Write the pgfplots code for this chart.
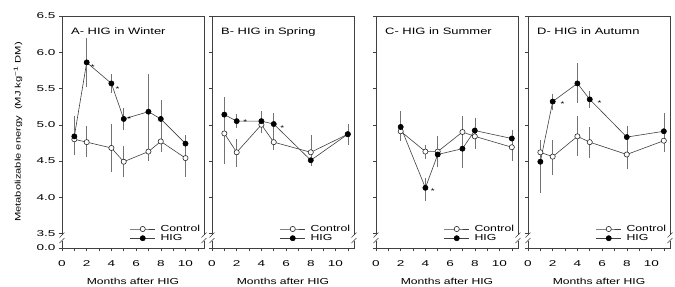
\documentclass[border=0pt]{standalone}
\usepackage{fontspec}
\setmainfont{Liberation Sans}[FakeStretch=1.4]
\newfontfamily\tickfont{Liberation Sans}[FakeStretch=1.6]
\usepackage{pgfplots}
\pgfplotsset{compat=1.18}
\pgfplotsset{
  panel/.style={
    scale only axis, width=142bp, height=232bp,
    xmin=0, xmax=11.5, ymin=3.3, ymax=6.5,
    xtick={0,2,4,6,8,10}, minor xtick={1,3,5,7,9,11},
    ytick={3.3,3.5,4.0,4.5,5.0,5.5,6.0,6.5},
    tick pos=left, tick align=outside,
    major tick length=3bp, minor tick length=3bp,
    axis line style={black!75, line width=0.6pt},
    tick style={black!75, line width=0.5pt},
    tick label style={font=\tickfont\fontsize{8.5}{9}\selectfont},
    /pgf/number format/assume math mode=true,
    xticklabel style={yshift=-6.5bp},
    xlabel={Months after HIG},
    x label style={at={(axis description cs:0.5,0)}, anchor=base, yshift=-36.5bp, font=\fontsize{8.7}{9}\selectfont},
    clip=false,
    legend style={draw=none, fill=none, at={(rel axis cs:0.995,0.012)}, anchor=south east,
      font=\fontsize{8.8}{10}\selectfont, row sep=-2.5bp, column sep=3bp, inner sep=1bp, cells={anchor=west}},
    legend image code/.code={\draw[mark repeat=2,mark phase=2,##1, mark size=2bp] plot coordinates {(0bp,0bp) (12.5bp,0bp) (25bp,0bp)};},
    after end axis/.code={
      \fill[white] ([xshift=-2.5bp]rel axis cs:0,0.032) rectangle ([xshift=2.5bp]rel axis cs:0,0.056);
      \draw[black!75, line width=0.5pt] ([xshift=-2.5bp,yshift=-2.5bp]rel axis cs:0,0.032) -- ([xshift=2.5bp,yshift=2.5bp]rel axis cs:0,0.032);
      \draw[black!75, line width=0.5pt] ([xshift=-2.5bp,yshift=-2.5bp]rel axis cs:0,0.056) -- ([xshift=2.5bp,yshift=2.5bp]rel axis cs:0,0.056);
      \fill[white] ([xshift=-2.5bp]rel axis cs:1,0.032) rectangle ([xshift=2.5bp]rel axis cs:1,0.056);
      \draw[black!75, line width=0.5pt] ([xshift=-2.5bp,yshift=-2.5bp]rel axis cs:1,0.032) -- ([xshift=2.5bp,yshift=2.5bp]rel axis cs:1,0.032);
      \draw[black!75, line width=0.5pt] ([xshift=-2.5bp,yshift=-2.5bp]rel axis cs:1,0.056) -- ([xshift=2.5bp,yshift=2.5bp]rel axis cs:1,0.056);
    },
  },
  ctrl/.style={color=black!75, line width=0.6pt, mark=*,
    mark options={fill=white, draw=black!85, mark size=2.6bp, line width=0.6pt},
    error bars/.cd, y dir=both, y explicit,
    error bar style={black!55, line width=0.5pt},
    error mark options={black!55, mark size=3.4bp, line width=0.5pt}},
  hig/.style={color=black!75, line width=0.6pt, mark=*,
    mark options={fill=black, draw=black, mark size=2.6bp},
    error bars/.cd, y dir=both, y explicit,
    error bar style={black!55, line width=0.5pt},
    error mark options={black!55, mark size=3.4bp, line width=0.5pt}},
}
\newcommand{\ptitle}[1]{\node[anchor=base west, inner sep=0pt, font=\fontsize{9.3}{10}\selectfont] at (rel axis cs:0.063,0.922) {#1};}
\newcommand{\signif}[2]{\node[font=\fontsize{7}{7}\selectfont, inner sep=0pt] at (axis cs:#1,#2) {*};}
\begin{document}
\begin{tikzpicture}
\useasboundingbox (0,0) rectangle (675bp,287bp);
% ---------- A ----------
\begin{axis}[panel, at={(62bp,39bp)}, anchor=south west,
  yticklabels={0.0,3.5,4.0,4.5,5.0,5.5,6.0,6.5},
  ylabel={Metabolizable energy\ \ (MJ kg\textsuperscript{−1} DM)},
  y label style={at={(axis description cs:-0.31,0.5)}, anchor=center, font=\fontsize{8}{9}\selectfont}]
\addplot[ctrl] table[x=x, y=y, y error plus=ep, y error minus=em] {
x y ep em
1 4.80 0.13 0.14
2 4.76 0.17 0.16
4 4.68 0.29 0.29
5 4.49 0.17 0.17
7 4.63 0.08 0.08
8 4.77 0.11 0.10
10 4.54 0.15 0.21
};
\addplot[hig] table[x=x, y=y, y error plus=ep, y error minus=em] {
x y ep em
1 4.84 0.24 0.21
2 5.86 0.29 0.29
4 5.57 0.08 0.08
5 5.08 0.10 0.10
7 5.18 0.47 0.47
8 5.08 0.22 0.21
10 4.74 0.07 0.07
};
\legend{Control,HIG}
\ptitle{A- HIG in Winter}
\signif{2.5}{5.80}
\signif{4.5}{5.49}
\signif{5.45}{5.08}
\end{axis}
% ---------- B ----------
\begin{axis}[panel, at={(212bp,39bp)}, anchor=south west, yticklabels=\empty]
\addplot[ctrl] table[x=x, y=y, y error plus=ep, y error minus=em] {
x y ep em
1 4.88 0.25 0.37
2 4.62 0.13 0.15
4 5.00 0.07 0.07
5 4.76 0.05 0.06
8 4.62 0.19 0.07
11 4.87 0.05 0.05
};
\addplot[hig] table[x=x, y=y, y error plus=ep, y error minus=em] {
x y ep em
1 5.14 0.19 0.13
2 5.05 0.05 0.05
4 5.05 0.09 0.09
5 5.01 0.11 0.13
8 4.51 0.04 0.03
11 4.87 0.09 0.10
};
\legend{Control,HIG}
\ptitle{B- HIG in Spring}
\signif{2.7}{5.03}
\signif{5.7}{4.95}
\end{axis}
% ---------- C ----------
\begin{axis}[panel, at={(376bp,39bp)}, anchor=south west, yticklabels=\empty]
\addplot[ctrl] table[x=x, y=y, y error plus=ep, y error minus=em] {
x y ep em
2 4.91 0.05 0.09
4 4.63 0.04 0.05
5 4.63 0.17 0.08
7 4.90 0.17 0.17
8 4.84 0.08 0.13
11 4.69 0.09 0.14
};
\addplot[hig] table[x=x, y=y, y error plus=ep, y error minus=em] {
x y ep em
2 4.97 0.17 0.15
4 4.13 0.09 0.14
5 4.59 0.05 0.13
7 4.67 0.06 0.22
8 4.92 0.13 0.09
11 4.81 0.065 0.07
};
\legend{Control,HIG}
\ptitle{C- HIG in Summer}
\signif{4.6}{4.09}
\end{axis}
% ---------- D ----------
\begin{axis}[panel, at={(528bp,39bp)}, anchor=south west, yticklabels=\empty]
\addplot[ctrl] table[x=x, y=y, y error plus=ep, y error minus=em] {
x y ep em
1 4.62 0.10 0.07
2 4.56 0.18 0.21
4 4.84 0.23 0.23
5 4.76 0.16 0.17
8 4.59 0.15 0.16
11 4.78 0.07 0.11
};
\addplot[hig] table[x=x, y=y, y error plus=ep, y error minus=em] {
x y ep em
1 4.49 0.25 0.38
2 5.32 0.06 0.07
4 5.57 0.23 0.22
5 5.35 0.07 0.07
8 4.83 0.11 0.16
11 4.91 0.21 0.22
};
\legend{Control,HIG}
\ptitle{D- HIG in Autumn}
\signif{2.8}{5.29}
\signif{5.8}{5.30}
\end{axis}
\end{tikzpicture}
\end{document}
